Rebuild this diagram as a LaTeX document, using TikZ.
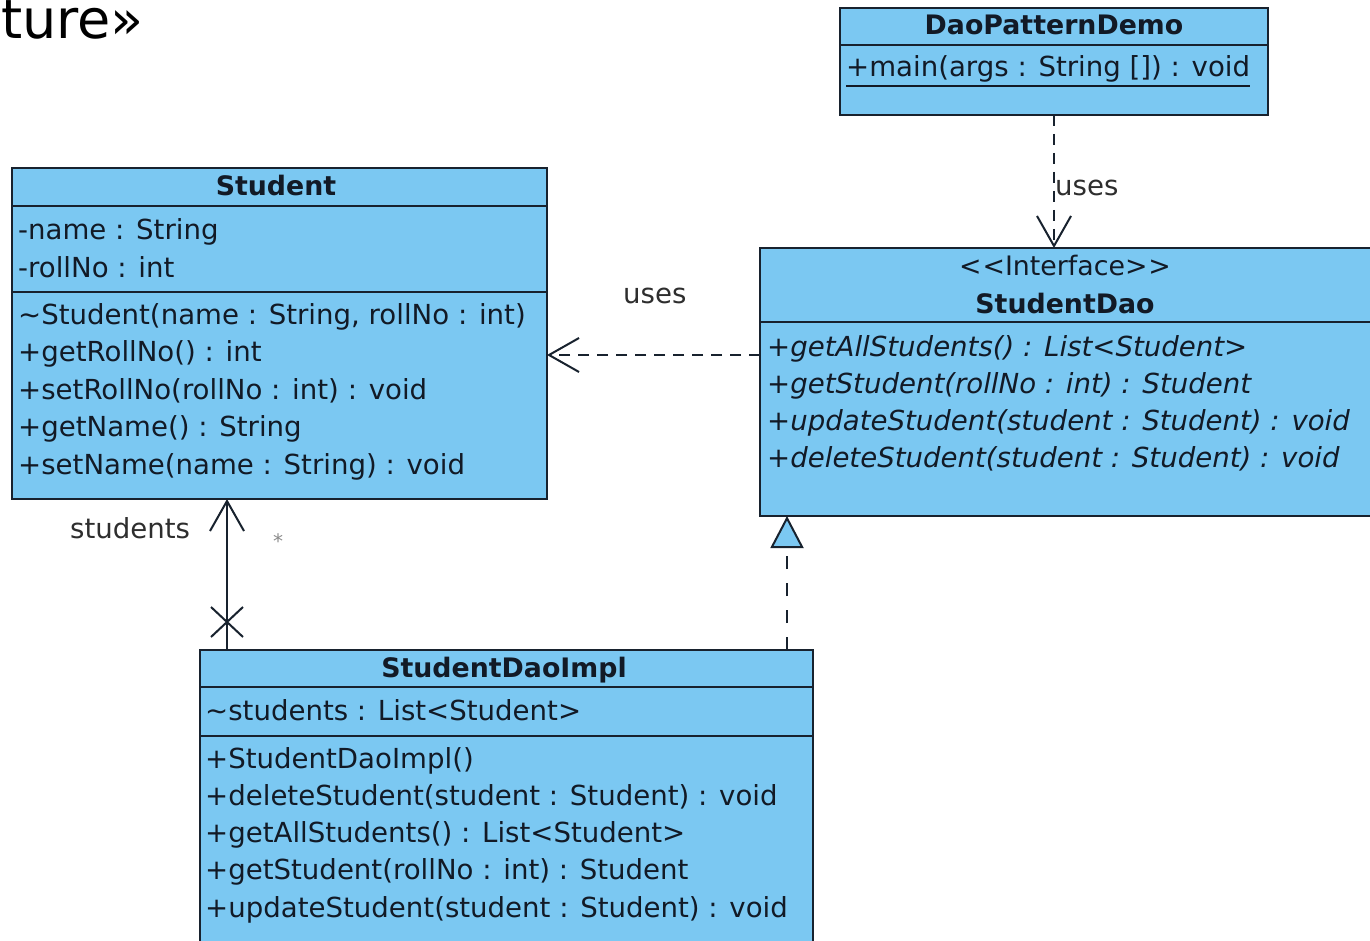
\documentclass[tikz,border=0pt]{standalone}
\usepackage{fontspec}
\setmainfont{DejaVu Sans}
\usetikzlibrary{arrows.meta}

\definecolor{classblue}{HTML}{7BC8F2}
\definecolor{edge}{HTML}{18222E}
\definecolor{ink}{HTML}{121A26}
\definecolor{lbl}{HTML}{2E2E2E}
\definecolor{mult}{HTML}{8A8A8A}

\tikzset{
  classbox/.style={draw=edge, fill=classblue, line width=2.5pt, inner sep=0pt, outer sep=0pt, anchor=north west},
  compline/.style={draw=edge, line width=2.5pt},
  member/.style={inner sep=0pt, anchor=base west, text=ink, font=\fontsize{27.6}{30}\selectfont},
  abstractmember/.style={member, font=\fontsize{27.6}{30}\selectfont\itshape},
  title/.style={inner sep=0pt, anchor=base, text=ink, font=\fontsize{26.8}{30}\selectfont\bfseries},
  stereo/.style={inner sep=0pt, anchor=base, text=ink, font=\fontsize{26.8}{30}\selectfont},
  edgelabel/.style={inner sep=0pt, anchor=base west, text=lbl, font=\fontsize{27.6}{30}\selectfont},
  usesdep/.style={draw=edge, line width=2pt, dash pattern=on 11pt off 8pt, -{Straight Barb[length=30pt, width=34pt, line width=2pt]}},
  navassoc/.style={draw=edge, line width=2pt, -{Straight Barb[length=30pt, width=34pt, line width=2pt]}},
  realizes/.style={draw=edge, line width=2pt, dash pattern=on 13pt off 14pt, -{Triangle[length=32pt, width=33pt, fill=classblue, line width=2pt]}},
}

\begin{document}
\begin{tikzpicture}[x=1pt, y=-1pt]
  \useasboundingbox (0,0) rectangle (1370,941);
  \fill[white] (0,0) rectangle (1370,941);
  \clip (0,0) rectangle (1370,941);

  % heading fragment
  \node[inner sep=0pt, anchor=base east, text=black, font=\fontsize{54}{60}\selectfont] (heading) at (144,39) {ture»};

  % DaoPatternDemo
  \node[classbox, minimum width=428pt, minimum height=107pt] (demo) at (840,8) {};
  \draw[compline] (demo.west |- 0,45) -- (demo.east |- 0,45);
  \node[title] (demoname) at (1054,35) {DaoPatternDemo};
  \node[member] (demomain) at (846,77) {+main(args : String []) : void};
  \draw[draw=ink, line width=1.8pt] ([yshift=-9pt]demomain.base west) -- ([yshift=-9pt]demomain.base east);

  % Student
  \node[classbox, minimum width=535pt, minimum height=331pt] (student) at (12,168) {};
  \draw[compline] (student.west |- 0,206) -- (student.east |- 0,206);
  \draw[compline] (student.west |- 0,292) -- (student.east |- 0,292);
  \node[title] (studentname) at (276,196) {Student};
  \node[member] (sa1) at (18,240) {-name : String};
  \node[member] (sa2) at (18,277) {-rollNo : int};
  \node[member] (sm1) at (18,324) {\textasciitilde Student(name : String, rollNo : int)};
  \node[member] (sm2) at (18,361) {+getRollNo() : int};
  \node[member] (sm3) at (18,399) {+setRollNo(rollNo : int) : void};
  \node[member] (sm4) at (18,436) {+getName() : String};
  \node[member] (sm5) at (18,474) {+setName(name : String) : void};

  % StudentDao interface
  \node[classbox, minimum width=640pt, minimum height=268pt] (dao) at (760,248) {};
  \draw[compline] (dao.west |- 0,322) -- (1370,322);
  \node[stereo] (daostereo) at (1065,276) {<\kern1pt<Interface>\kern1pt>};
  \node[title] (daoname) at (1065,313) {StudentDao};
  \node[abstractmember] (dm1) at (767,356) {+getAllStudents() : List<Student>};
  \node[abstractmember] (dm2) at (767,393) {+getStudent(rollNo : int) : Student};
  \node[abstractmember] (dm3) at (767,430) {+updateStudent(student : Student) : void};
  \node[abstractmember] (dm4) at (767,467) {+deleteStudent(student : Student) : void};

  % StudentDaoImpl
  \node[classbox, minimum width=613pt, minimum height=320pt] (impl) at (200,650) {};
  \draw[compline] (impl.west |- 0,687) -- (impl.east |- 0,687);
  \draw[compline] (impl.west |- 0,736) -- (impl.east |- 0,736);
  \node[title] (implname) at (504,677) {StudentDaoImpl};
  \node[member] (ia1) at (205,720) {\textasciitilde students : List<Student>};
  \node[member] (im1) at (205,768) {+StudentDaoImpl()};
  \node[member] (im2) at (205,805) {+deleteStudent(student : Student) : void};
  \node[member] (im3) at (205,842) {+getAllStudents() : List<Student>};
  \node[member] (im4) at (205,879) {+getStudent(rollNo : int) : Student};
  \node[member] (im5) at (205,917) {+updateStudent(student : Student) : void};

  % DaoPatternDemo uses StudentDao
  \draw[usesdep] (demo.south) -- (demo.south |- dao.north);
  \node[edgelabel] (uses1) at (1055,196) {uses};

  % StudentDao uses Student
  \coordinate (usesrow) at (0,355);
  \draw[usesdep] (dao.west |- usesrow) -- (student.east |- usesrow);
  \node[edgelabel] (uses2) at (623,303) {uses};

  % StudentDaoImpl navigates to Student
  \coordinate (assocx) at (227,0);
  \coordinate (xmark) at (227,622);
  \draw[navassoc] (impl.north -| assocx) -- (student.south -| assocx);
  \draw[draw=edge, line width=2pt] ([shift={(-16,-15)}]xmark) -- ([shift={(16,15)}]xmark);
  \draw[draw=edge, line width=2pt] ([shift={(-16,15)}]xmark) -- ([shift={(16,-15)}]xmark);
  \node[edgelabel] (rolename) at (70,538) {students};
  \node[inner sep=0pt, anchor=base, text=mult, font=\fontsize{20}{24}\selectfont] (multstar) at (278,548) {*};

  % StudentDaoImpl realizes StudentDao
  \coordinate (realx) at (787,0);
  \draw[realizes] (impl.north -| realx) -- (dao.south -| realx);
\end{tikzpicture}
\end{document}
